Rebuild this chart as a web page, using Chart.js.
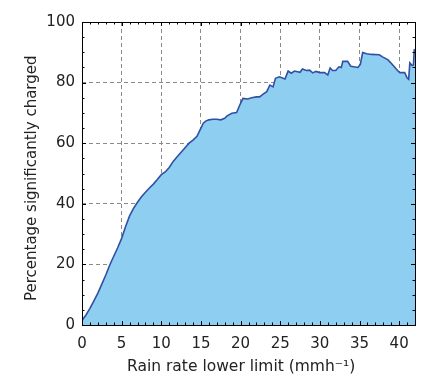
<!DOCTYPE html>
<html><head><meta charset="utf-8">
<script src="https://cdn.jsdelivr.net/npm/chart.js"></script>
<style>
  body { margin: 0; background: #fff; }
  canvas { display: block; }
</style>
</head>
<body>
<canvas id="rainChart" width="434" height="378"></canvas>
<script>
// rain rate lower limit (mm/h) and % significantly charged
var rainRate = [0, 0.5, 1, 1.5, 2, 2.5, 3, 3.5, 4, 4.5, 5, 5.5, 6, 6.5, 7, 7.5, 8, 8.5, 9, 9.5,
  10, 10.5, 11, 11.5, 12, 12.5, 13, 13.5, 14, 14.5, 15, 15.3, 15.6, 16, 16.5, 17, 17.5, 18, 18.3, 18.9,
  19.5, 19.9, 20.3, 20.9, 21.4, 22, 22.4, 22.8, 23.3, 23.7, 24.1, 24.4, 24.9, 25.6, 26, 26.4, 26.8,
  27.5, 27.8, 28.3, 28.7, 29.1, 29.5, 30, 30.6, 31, 31.3, 31.6, 32, 32.4, 32.7, 32.9, 33.5, 33.9,
  34.8, 35.1, 35.4, 35.9, 36.5, 37.5, 37.9, 38.6, 39.2, 39.8, 40.1, 40.7, 41, 41.2, 41.35, 41.6,
  41.8, 41.9, 42];
var pctCharged = [1.5, 3.3, 5.5, 8, 10.5, 13.5, 16.5, 19.8, 22.7, 25.5, 28.6, 32.5, 36, 38.5, 40.5, 42.3, 43.8, 45.2, 46.5, 48,
  49.6, 50.5, 52, 54, 55.5, 57, 58.5, 60, 61, 62.3, 65, 66.6, 67.3, 67.7, 67.9, 67.9, 67.7, 68.2, 69, 69.9,
  70.1, 72.6, 74.8, 74.6, 75, 75.3, 75.3, 76.1, 77, 79.2, 78.6, 81.4, 81.9, 81.2, 83.8, 83.1, 83.8,
  83.4, 84.5, 84, 84.1, 83.2, 83.7, 83.3, 83.3, 82.5, 84.8, 84, 84, 85.2, 85, 87, 87, 85.4,
  85, 86, 89.9, 89.5, 89.3, 89.2, 88.5, 87.5, 85.8, 84, 83.3, 83.3, 81.6, 81.1, 86.5, 85.7,
  85.8, 90.8, 91];

var xMin = 0, xMax = 42, xStep = 5, xMinor = 1;
var yMin = 0, yMax = 100, yStep = 20, yMinor = 5;

var points = rainRate.map(function (x, i) { return { x: x, y: pctCharged[i] }; });

var fontFam = "'DejaVu Sans', sans-serif";

// box around the plot + inward tick marks on all four sides
var frame = {
  id: 'frame',
  afterDraw: function (chart) {
    var c = chart.ctx, a = chart.chartArea;
    var xs = chart.scales.x, ys = chart.scales.y;
    c.save();
    c.strokeStyle = '#000';
    c.lineWidth = 1;
    c.beginPath();
    var v, p, len;
    for (v = xMin; v <= xMax; v += xMinor) {
      p = Math.round(xs.getPixelForValue(v)) + 0.5;
      len = (v % xStep === 0) ? 4 : 2.5;
      c.moveTo(p, a.bottom); c.lineTo(p, a.bottom - len);
      c.moveTo(p, a.top); c.lineTo(p, a.top + len);
    }
    for (v = yMin; v <= yMax; v += yMinor) {
      p = Math.round(ys.getPixelForValue(v)) + 0.5;
      len = (v % yStep === 0) ? 4 : 2.5;
      c.moveTo(a.left, p); c.lineTo(a.left + len, p);
      c.moveTo(a.right, p); c.lineTo(a.right - len, p);
    }
    c.stroke();
    c.strokeRect(Math.round(a.left) + 0.5, Math.round(a.top) + 0.5,
      Math.round(a.right - a.left), Math.round(a.bottom - a.top));
    c.restore();
  }
};

function gridColor(ctx) {
  var v = ctx.tick ? ctx.tick.value : 0;
  return (v === xMin || v === xMax || v === yMin || v === yMax) ? 'rgba(0,0,0,0)' : '#8a8a8a';
}

new Chart(document.getElementById('rainChart'), {
  type: 'line',
  data: {
    datasets: [{
      data: points,
      borderColor: '#3150a3',
      borderWidth: 1.6,
      backgroundColor: '#8ecef0',
      fill: 'origin',
      pointRadius: 0,
      tension: 0
    }]
  },
  options: {
    responsive: false,
    animation: false,
    layout: { padding: { top: 22, right: 19, left: 0, bottom: 0 } },
    plugins: { legend: { display: false }, tooltip: { enabled: false } },
    scales: {
      x: {
        type: 'linear', min: xMin, max: xMax, z: 1,
        border: { display: false, dash: [4, 3] },
        grid: { color: gridColor, drawTicks: false, lineWidth: 1 },
        ticks: { stepSize: xStep, includeBounds: false, padding: 10, maxRotation: 0,
          color: '#222', font: { family: fontFam, size: 15 } },
        title: { display: true, text: 'Rain rate lower limit (mmh\u207B\u00B9)   ', color: '#222',
          font: { family: fontFam, size: 15.5 }, padding: { top: 0, bottom: 2 } },
        afterFit: function (s) { s.height = 53; }
      },
      y: {
        min: yMin, max: yMax, z: 1,
        border: { display: false, dash: [4, 3] },
        grid: { color: gridColor, drawTicks: false, lineWidth: 1 },
        ticks: { stepSize: yStep, padding: 7, color: '#222', font: { family: fontFam, size: 15 } },
        title: { display: true, text: 'Percentage significantly charged  ', color: '#222',
          font: { family: fontFam, size: 15 }, padding: { top: 23, bottom: 0 } },
        afterFit: function (s) { s.width = 82; }
      }
    }
  },
  plugins: [frame]
});
</script>
</body></html>
